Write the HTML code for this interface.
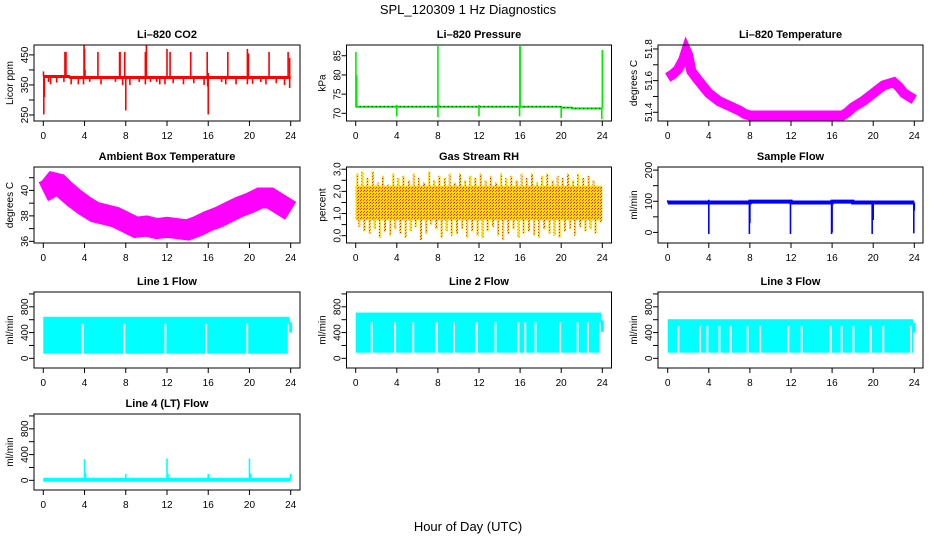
<!DOCTYPE html>
<html><head><meta charset="utf-8"><style>
html,body{margin:0;padding:0;background:#fff;}
svg{display:block;font-family:"Liberation Sans",Arial,sans-serif;}
</style></head><body>
<svg id="chart" width="936" height="540" viewBox="0 0 936 540">
<defs>
<pattern id="rhPat" width="3" height="3" patternUnits="userSpaceOnUse">
<rect width="3" height="3" fill="#ffd800"/><rect x="1" y="1" width="1" height="1" fill="#e02000"/><rect x="0" y="2" width="1" height="1" fill="#f04000"/>
</pattern>
</defs>
<text x="468" y="14" font-size="13" text-anchor="middle">SPL_120309  1 Hz Diagnostics</text>
<text x="468" y="531" font-size="13" text-anchor="middle">Hour of Day (UTC)</text>
</svg>
<script>
// ---------- data ----------
const xTicks = [0,4,8,12,16,20,24];

const co2Base = [[0,378],[2.5,378],[2.6,375],[24,375]];
const co2Spikes = [[2.1,460],[2.2,460],[3.95,482],[4.0,470],[4.05,400],[5.3,460],[7.4,460],[7.45,460],[7.9,460],[9.9,460],[10.0,482],[12.0,470],[12.3,460],[14.3,460],[15.9,460],[16.0,390],[17.9,460],[19.8,470],[19.9,455],[21.9,460],[23.75,460],[23.9,440],
 [0.05,252],[0.1,310],[0.02,395],[8.0,265],[15.95,345],[16.0,252],[23.9,340],[0.5,360],[0.7,352],[1.3,358],[2.0,360],[2.7,352],[3.4,352],[3.9,352],[4.5,360],[5.6,352],[7.0,360],[7.7,350],[8.4,350],[9.3,360],[9.9,352],[10.4,360],[11.0,360],[11.3,352],[11.8,352],[12.6,356],[13.6,352],[14.6,356],[15.6,350],[17.3,360],[17.7,352],[18.7,352],[19.8,352],[20.3,354],[21.1,360],[21.6,352],[22.6,356],[23.4,350]];

const presBase = [[0,71.7],[20,71.7],[20.1,71.5],[21,71.5],[21.1,71.3],[24,71.3]];
const presSpikes = [[0.02,86],[0.1,80],[0.08,74],[8.0,87.5],[16.0,87.5],[15.98,87.5],[24.0,86.5],[4.0,69.2],[8.0,69.0],[12.0,69.2],[15.95,69.2],[20.0,68.8],[23.95,68.5],[4.0,72.2],[12.0,72.2],[8.1,72.2]];

const tempHours = [0,0.5,1,1.5,1.8,2.0,2.3,3,4,5,6,7,7.5,8,10,12,14,16,17,17.5,18,19,20,21,22,22.5,23,24];
const tempValues = [51.62,51.64,51.67,51.73,51.79,51.76,51.66,51.60,51.52,51.47,51.44,51.41,51.39,51.38,51.38,51.38,51.38,51.38,51.38,51.40,51.43,51.47,51.52,51.57,51.59,51.56,51.52,51.48];

const ambHours = [0,0.5,1,1.5,2,3,4,5,6,7,8,9,10,11,12,13,14,15,16,17,18,19,20,21,22,23,24];
const ambValues = [39.9,40.1,40.6,40.5,40.1,39.4,38.8,38.3,38.1,37.9,37.5,37.1,37.2,37.0,37.1,37.0,36.9,37.2,37.6,37.9,38.3,38.7,39.0,39.4,39.4,38.9,38.4];

const rhUp = [2.8,2.9,2.6,2.9,2.4,2.7,2.3,2.8,2.6,2.7,2.5,2.8,2.6,2.4,2.9,2.5,2.7,2.6,2.8,2.4,2.8,2.5,2.7,2.6,2.8,2.5,2.7,2.4,2.8,2.6,2.7,2.5,2.8,2.6,2.8,2.4,2.7,2.8,2.5,2.7,2.6,2.8,2.5,2.8,2.6,2.7,2.5,2.2];
const rhDown = [0.4,0.2,0.1,0.3,-0.1,0.2,0.0,0.3,0.1,-0.1,0.2,0.4,-0.2,0.1,0.5,0.3,-0.1,0.2,0.0,0.1,0.3,-0.1,0.2,0.0,-0.1,0.2,0.4,0.0,-0.2,0.1,0.3,-0.1,0.1,0.2,0.0,-0.1,0.3,0.1,0.0,-0.1,0.2,0.3,0.0,0.4,0.2,0.3,0.1,0.6];

const sfBase = [[0,96],[8,96],[8.02,99],[12,99],[12.02,96],[16,96],[16.02,99],[18,99],[18.02,96],[24,96]];
const sfSpikes = [[4.0,-5],[7.95,-5],[8.0,30],[11.95,-5],[15.95,-5],[16.0,0],[19.9,-5],[20.0,40],[23.95,-3],[24.0,70],[4.0,105],[12.0,105],[20.0,102],[0,103]];

const l1Band = [72,645];
const l1Gaps = [3.82,7.86,11.84,15.8,19.78,23.82];
const l2Band = [88,711];
const l2Gaps = [1.56,3.83,5.6,7.88,9.57,11.77,13.6,15.83,16.5,17.5,19.9,21.6,22.6,23.8];
const l3Band = [88,608];
const l3Gaps = [1.04,3.15,3.86,5.03,6.13,7.78,9.0,11.74,13.04,15.86,16.93,18.07,19.75,20.98,23.68];
const l4Spikes = [[4.0,330],[4.1,110],[8.0,100],[12.0,340],[12.1,100],[16.0,100],[20.0,340],[20.1,100],[24.0,100]];

// ---------- layout ----------
const NS = "http://www.w3.org/2000/svg";
const svg = document.getElementById('chart');
const cols = [{L:34,R:300,x0:43.3,x24:290.7},{L:346.5,R:611.5,x0:355.7,x24:602.3},{L:658,R:923,x0:667.7,x24:914.3}];
const rowTops = [45,167,292,414];
const H = 76;

function mk(tag, attrs, parent){
  const e = document.createElementNS(NS, tag);
  for (const k in attrs) e.setAttribute(k, attrs[k]);
  (parent||svg).appendChild(e);
  return e;
}

function panel(r, c, name, title, ylab, yLo, yHi, ticks, labels){
  const col = cols[c], T = rowTops[r], B = T + H;
  const g = mk('g', {});
  
  
  const p = {
    g, T, B, L: col.L, R: col.R,
    x: h => col.x0 + (col.x24 - col.x0) * h / 24,
    y: v => B - (v - yLo) / (yHi - yLo) * H
  };
  const plot = mk('g', {}, g);
  
  
  p.plot = plot;
  const box = mk('rect', {x:col.L, y:T, width:col.R-col.L, height:H, fill:'none', stroke:'#000', 'stroke-width':1}, g);
  
  
  p.box = box;
  const t = mk('text', {x:(col.L+col.R)/2, y:T-7, 'font-size':11, 'font-weight':'bold', 'text-anchor':'middle'}, g);
  t.textContent = title;
  
  
  const xa = mk('g', {}, g);
  
  
  xTicks.forEach(h => {
    mk('line', {x1:p.x(h), x2:p.x(h), y1:B, y2:B+5, stroke:'#000'}, xa);
    const tx = mk('text', {x:p.x(h), y:B+18, 'font-size':10, 'text-anchor':'middle'}, xa);
    tx.textContent = h;
  });
  const ya = mk('g', {}, g);
  
  
  ticks.forEach(v => {
    mk('line', {x1:col.L, x2:col.L-5, y1:p.y(v), y2:p.y(v), stroke:'#000'}, ya);
  });
  labels.forEach(v => {
    const tx = mk('text', {transform:`translate(${col.L-6},${p.y(v)}) rotate(-90)`, 'font-size':10, 'text-anchor':'middle'}, ya);
    tx.textContent = v;
  });
  const yt = mk('text', {transform:`translate(${col.L-21},${T+H/2}) rotate(-90)`, 'font-size':10, 'text-anchor':'middle'}, g);
  yt.textContent = ylab;
  
  
  return p;
}
function finish(p){ p.g.appendChild(p.box); }
function poly(p, pts, color, w){
  return mk('polyline', {points: pts.map(d => p.x(d[0])+','+p.y(d[1])).join(' '), fill:'none', stroke:color, 'stroke-width':w, 'stroke-linejoin':'miter'}, p.plot);
}
function spikes(p, base, arr, color, w){
  arr.forEach(d => {
    mk('line', {x1:p.x(d[0]), x2:p.x(d[0]), y1:p.y(base(d[0])), y2:p.y(d[1]), stroke:color, 'stroke-width':w}, p.plot);
  });
}
function interp(arr, h){
  for (let i=1;i<arr.length;i++) if (h<=arr[i][0]) {
    const a=arr[i-1], b=arr[i]; const t=(h-a[0])/((b[0]-a[0])||1); return a[1]+t*(b[1]-a[1]);
  }
  return arr[arr.length-1][1];
}

// CO2
let p = panel(0,0,'co2','Li\u2013820 CO2','Licor ppm',230,483,[250,300,350,400,450],[250,350,450]);
poly(p, co2Base, '#ff0000', 3);
spikes(p, h => interp(co2Base,h), co2Spikes, '#ff0000', 1.6);
finish(p);

// Pressure
p = panel(0,1,'pressure','Li\u2013820 Pressure','kPa',68.0,87.8,[70,75,80,85],[70,75,80,85]);
poly(p, presBase, '#00ee00', 2);
poly(p, presBase, '#000', 1).setAttribute('stroke-dasharray','1,3');
spikes(p, h => interp(presBase,h), presSpikes, '#00ee00', 1.6);
finish(p);

// Li-820 Temperature
p = panel(0,2,'li820-temperature','Li\u2013820 Temperature','degrees C',51.345,51.825,[51.4,51.5,51.6,51.7,51.8],[51.4,51.6,51.8]);
poly(p, tempHours.map((h,i)=>[h,tempValues[i]]), '#ff00ff', 10);
finish(p);

// Ambient
p = panel(1,0,'ambient-temperature','Ambient Box Temperature','degrees C',35.87,41.84,[36,37,38,39,40,41],[36,38,40]);
poly(p, ambHours.map((h,i)=>[h,ambValues[i]]), '#ff00ff', 21);
finish(p);

// RH
p = panel(1,1,'gas-stream-rh','Gas Stream RH','percent',-0.33,3.10,[0,0.5,1,1.5,2,2.5,3],['0.0','1.0','2.0','3.0']);
mk('rect', {x:p.x(0), y:p.y(2.25), width:p.x(24)-p.x(0), height:p.y(0.7)-p.y(2.25), fill:'url(#rhPat)'}, p.plot);
rhUp.forEach((v,i) => {
  const h = (i+0.3)*24/rhUp.length;
  mk('rect', {x:p.x(h)-1, y:p.y(v), width:2, height:p.y(2.2)-p.y(v), fill:'url(#rhPat)'}, p.plot);
});
rhDown.forEach((v,i) => {
  const h = (i+0.7)*24/rhDown.length;
  mk('rect', {x:p.x(h)-1, y:p.y(0.8), width:2, height:p.y(v)-p.y(0.8), fill:'url(#rhPat)'}, p.plot);
});
finish(p);

// Sample Flow
p = panel(1,2,'sample-flow','Sample Flow','ml/min',-34,210,[0,50,100,150,200],[0,100,200]);
poly(p, sfBase, '#0000ff', 4);
spikes(p, h => interp(sfBase,h), sfSpikes, '#0000ff', 1.6);
finish(p);

// Line flows
function flowPanel(r,c,name,title,band,gaps,endLo,endHi,gapTop){
  const q = panel(r,c,name,title,'ml/min',-150,1030,[0,200,400,600,800,1000],[0,400,800]);
  mk('rect', {x:q.x(0), y:q.y(band[1]), width:q.x(23.9)-q.x(0), height:q.y(band[0])-q.y(band[1]), fill:'#00ffff'}, q.plot);
  gaps.forEach(h => {
    mk('rect', {x:q.x(h)-1, y:q.y(gapTop), width:2, height:q.y(band[0]-1)-q.y(gapTop)+1, fill:'#fff'}, q.plot);
  });
  mk('line', {x1:q.x(24), x2:q.x(24), y1:q.y(endLo), y2:q.y(endHi), stroke:'#00ffff', 'stroke-width':3}, q.plot);
  finish(q);
}
flowPanel(2,0,'line-1-flow','Line 1 Flow',l1Band,l1Gaps,400,560,535);
flowPanel(2,1,'line-2-flow','Line 2 Flow',l2Band,l2Gaps,410,590,560);
flowPanel(2,2,'line-3-flow','Line 3 Flow',l3Band,l3Gaps,400,550,500);

// Line 4
p = panel(3,0,'line-4-flow','Line 4 (LT) Flow','ml/min',-150,1030,[0,200,400,600,800,1000],[0,400,800]);
poly(p, [[0,10],[24,10]], '#00ffff', 4);
spikes(p, () => 10, l4Spikes, '#00ffff', 1.6);
finish(p);
</script>
</body></html>
